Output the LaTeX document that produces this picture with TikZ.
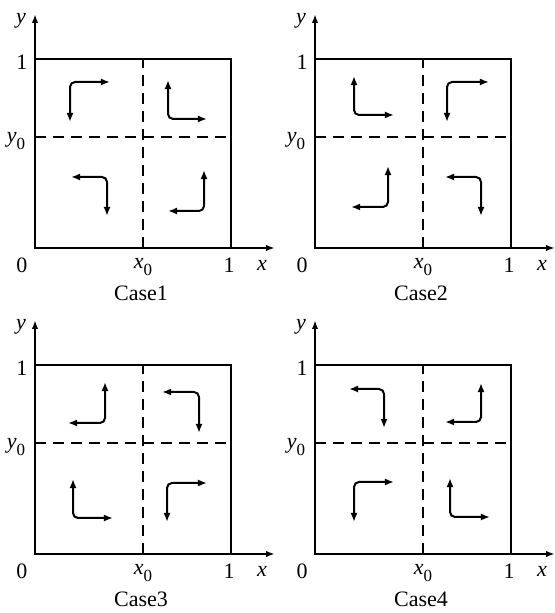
\documentclass[tikz,border=0pt]{standalone}
\usepackage{fontspec}
\setmainfont{Liberation Serif}
\usetikzlibrary{arrows.meta}
\tikzset{
  frame/.style={line width=1pt},
  axis/.style={line width=1pt,-{Latex[length=4.5pt,width=3.2pt]}},
  divider/.style={line width=0.9pt,dash pattern=on 5.5pt off 3.5pt},
  turn/.style={line width=1pt,rounded corners=2.5pt,{Latex[length=4.6pt,width=3.6pt]}-{Latex[length=4.6pt,width=3.6pt]}},
  lab/.style={inner sep=0pt,font=\fontsize{11}{13}\selectfont}
}
\newcommand{\subz}{\raisebox{-3.4pt}{\fontsize{8.5}{9}\selectfont 0}}
\newcommand{\casepanel}[2]{%
  \draw[frame] (0,0) rectangle (196,189);
  \draw[axis] (0,0) -- (0,234);
  \draw[axis] (0,0) -- (240,0);
  \draw[divider] (108,0) -- (108,189);
  \draw[divider] (0,111) -- (196,111);
  \node[lab] (o#1) at (-13,-17) {0};
  \node[lab] (xz#1) at (108,-19) {\textit{x}\subz};
  \node[lab] (xo#1) at (194,-17) {1};
  \node[lab] (xl#1) at (227,-17) {\textit{x}};
  \node[lab] (yl#1) at (-14,227) {\textit{y}};
  \node[lab] (yo#1) at (-13,186) {1};
  \node[lab] (yz#1) at (-19,107) {\textit{y}\subz};
  \node[lab] (c#1) at (106,-45) {#2};
}
\begin{document}
\begin{tikzpicture}[x=0.5pt,y=0.5pt]
\useasboundingbox (0,0) rectangle (554,613);
% Case 1
\begin{scope}[shift={(35,365)}]
  \casepanel{1}{Case1}
  \draw[turn] (75,166) -- (35,166) -- (35,126);
  \draw[turn] (133,168) -- (133,129) -- (172,129);
  \draw[turn] (36,71) -- (72,71) -- (72,32);
  \draw[turn] (169,78) -- (169,37) -- (133,37);
\end{scope}
% Case 2
\begin{scope}[shift={(315,365)}]
  \casepanel{2}{Case2}
  \draw[turn] (39,172) -- (39,133) -- (79,133);
  \draw[turn] (174,166) -- (132,166) -- (132,126);
  \draw[turn] (73,82) -- (73,41) -- (36,41);
  \draw[turn] (130,71) -- (166,71) -- (166,32);
\end{scope}
% Case 3
\begin{scope}[shift={(35,59)}]
  \casepanel{3}{Case3}
  \draw[turn] (70,172) -- (70,131) -- (33,131);
  \draw[turn] (127,162) -- (164,162) -- (164,121);
  \draw[turn] (38,75) -- (38,36) -- (78,36);
  \draw[turn] (172,71) -- (132,71) -- (132,32);
\end{scope}
% Case 4
\begin{scope}[shift={(315,59)}]
  \casepanel{4}{Case4}
  \draw[turn] (34,165) -- (69,165) -- (69,126);
  \draw[turn] (166,171) -- (166,132) -- (130,132);
  \draw[turn] (79,72) -- (39,72) -- (39,32);
  \draw[turn] (135,76) -- (135,37) -- (175,37);
\end{scope}
\end{tikzpicture}
\end{document}
